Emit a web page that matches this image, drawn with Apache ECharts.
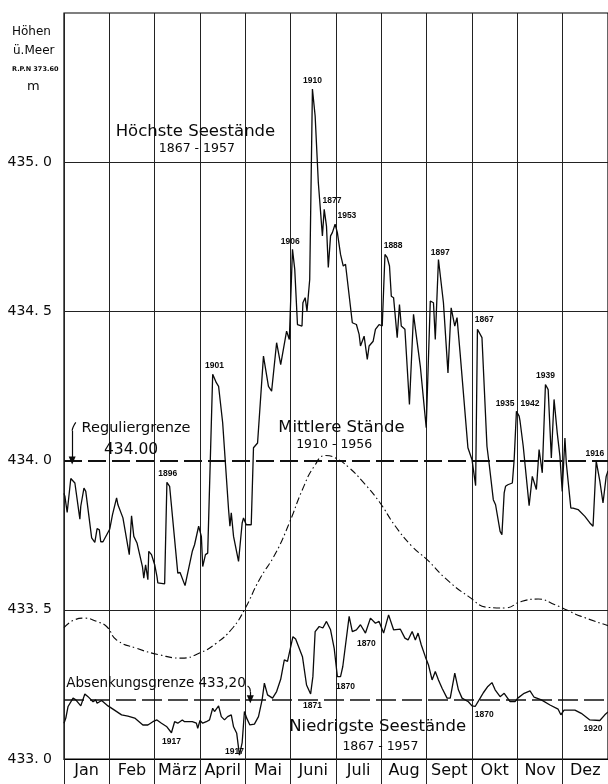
<!DOCTYPE html>
<html>
<head>
<meta charset="utf-8">
<script src="https://cdn.jsdelivr.net/npm/echarts@6/dist/echarts.min.js"></script>
<style>html,body{margin:0;padding:0;background:#fff}#c{width:608px;height:784px}</style>
</head>
<body>
<div id="c"></div>
<script>
// ---- data (x = months since 1 Jan, y = lake level in m ü. M.) ----
const months = ['Jan','Feb','März','April','Mai','Juni','Juli','Aug','Sept','Okt','Nov','Dez'];
const yTicks = [433.0, 433.5, 434.0, 434.5, 435.0];
const regulierGrenze = 434.00;
const absenkGrenze = 433.20;

const highest = [
[0.00,433.890],[0.02,433.880],[0.07,433.826],[0.15,433.940],[0.24,433.925],[0.35,433.804],[0.37,433.847],[0.44,433.908],[0.48,433.897],
[0.61,433.741],[0.68,433.726],[0.73,433.772],[0.78,433.768],[0.81,433.728],[0.86,433.728],[1.01,433.771],[1.07,433.819],[1.16,433.875],
[1.19,433.852],[1.30,433.808],[1.44,433.685],[1.49,433.815],[1.54,433.746],[1.61,433.724],[1.73,433.645],[1.76,433.606],[1.80,433.651],
[1.85,433.601],[1.87,433.696],[1.93,433.685],[2.00,433.651],[2.05,433.612],[2.07,433.590],[2.22,433.587],[2.27,433.927],[2.33,433.914],
[2.51,433.623],[2.56,433.625],[2.67,433.581],[2.70,433.587],[2.83,433.696],[2.88,433.718],[2.97,433.780],[3.03,433.746],[3.06,433.645],
[3.12,433.685],[3.17,433.690],[3.28,434.289],[3.36,434.261],[3.41,434.249],[3.50,434.127],[3.63,433.836],[3.66,433.780],[3.69,433.825],
[3.74,433.746],[3.85,433.662],[3.93,433.791],[3.96,433.808],[4.02,433.785],[4.13,433.785],[4.18,434.043],[4.27,434.059],[4.40,434.350],
[4.44,434.345],[4.51,434.249],[4.58,434.233],[4.69,434.395],[4.78,434.322],[4.91,434.434],[4.97,434.406],[5.00,434.406],[5.04,434.708],
[5.09,434.641],[5.15,434.456],[5.25,434.451],[5.27,434.529],[5.32,434.546],[5.36,434.501],[5.42,434.607],[5.48,435.245],[5.54,435.155],
[5.61,434.932],[5.70,434.753],[5.74,434.842],[5.79,434.786],[5.83,434.647],[5.88,434.753],[5.92,434.764],[5.98,434.792],[6.03,434.764],
[6.10,434.691],[6.16,434.652],[6.21,434.658],[6.36,434.462],[6.45,434.456],[6.51,434.423],[6.54,434.384],[6.62,434.417],[6.69,434.339],
[6.73,434.384],[6.82,434.400],[6.87,434.440],[6.95,434.456],[7.02,434.451],[7.08,434.691],[7.13,434.680],[7.18,434.652],[7.22,434.551],
[7.27,434.546],[7.35,434.412],[7.40,434.523],[7.44,434.451],[7.52,434.440],[7.62,434.188],[7.71,434.490],[7.86,434.316],[7.99,434.110],
[8.08,434.535],[8.15,434.529],[8.19,434.406],[8.26,434.674],[8.37,434.529],[8.47,434.294],[8.54,434.512],[8.62,434.451],[8.67,434.479],
[8.74,434.356],[8.91,434.043],[9.00,434.003],[9.08,433.916],[9.12,434.440],[9.22,434.412],[9.33,434.048],[9.38,433.987],[9.47,433.869],
[9.52,433.852],[9.62,433.763],[9.66,433.752],[9.71,433.892],[9.74,433.914],[9.79,433.919],[9.89,433.925],[9.93,434.003],[9.98,434.165],
[10.04,434.149],[10.06,434.132],[10.13,434.048],[10.26,433.849],[10.33,433.947],[10.37,433.942],[10.42,433.903],[10.48,434.037],
[10.55,433.959],[10.62,434.255],[10.68,434.238],[10.75,434.009],[10.81,434.205],[10.88,434.093],[10.94,434.014],[10.99,433.897],
[11.05,434.076],[11.08,433.992],[11.18,433.841],[11.23,433.841],[11.34,433.836],[11.49,433.813],[11.60,433.791],[11.67,433.780],
[11.74,433.998],[11.82,433.931],[11.89,433.858],[11.96,433.947],[12.00,433.965]
];

const mean = [
[0.00,433.440],[0.20,433.464],[0.46,433.472],[0.72,433.461],[0.94,433.444],[1.16,433.399],[1.60,433.371],[2.11,433.349],[2.59,433.338],
[2.99,433.355],[3.36,433.388],[3.72,433.439],[3.98,433.500],[4.31,433.601],[4.67,433.690],[4.97,433.791],[5.26,433.903],[5.52,433.981],
[5.77,434.017],[5.99,434.009],[6.29,433.976],[6.58,433.931],[6.95,433.863],[7.31,433.780],[7.68,433.712],[8.01,433.668],[8.41,433.606],
[8.92,433.545],[9.36,433.508],[9.73,433.506],[10.09,433.528],[10.46,433.536],[10.83,433.517],[11.05,433.502],[11.41,433.478],[12.00,433.447]
];

const lowest = [
[0.00,433.120],[0.04,433.137],[0.09,433.176],[0.20,433.204],[0.26,433.198],[0.37,433.178],[0.46,433.218],[0.53,433.209],[0.64,433.192],
[0.70,433.198],[0.73,433.187],[0.83,433.196],[0.97,433.178],[1.08,433.167],[1.27,433.148],[1.41,433.144],[1.56,433.137],[1.74,433.114],
[1.85,433.114],[1.96,433.125],[2.05,433.131],[2.15,433.120],[2.27,433.108],[2.37,433.088],[2.44,433.125],[2.51,433.120],[2.61,433.131],
[2.66,433.125],[2.83,433.125],[2.92,433.120],[2.95,433.103],[3.00,433.129],[3.06,433.120],[3.14,433.125],[3.21,433.131],[3.28,433.170],
[3.32,433.159],[3.41,433.178],[3.47,433.142],[3.54,433.131],[3.61,433.142],[3.69,433.148],[3.74,433.108],[3.81,433.086],[3.87,433.013],
[3.93,433.055],[3.98,433.159],[4.03,433.137],[4.10,433.114],[4.20,433.117],[4.29,433.142],[4.37,433.198],[4.42,433.254],[4.49,433.215],
[4.60,433.204],[4.69,433.226],[4.78,433.267],[4.86,433.332],[4.93,433.327],[5.05,433.410],[5.11,433.402],[5.26,433.343],[5.35,433.248],
[5.44,433.218],[5.49,433.276],[5.54,433.427],[5.63,433.444],[5.71,433.439],[5.79,433.461],[5.88,433.433],[5.96,433.371],[6.03,433.276],
[6.10,433.276],[6.15,433.310],[6.29,433.478],[6.36,433.427],[6.45,433.433],[6.54,433.450],[6.65,433.422],[6.76,433.472],[6.87,433.455],
[6.95,433.461],[7.05,433.422],[7.16,433.483],[7.27,433.433],[7.42,433.435],[7.52,433.405],[7.59,433.399],[7.68,433.427],[7.75,433.399],
[7.81,433.422],[7.88,433.383],[7.97,433.343],[8.04,433.315],[8.12,433.265],[8.19,433.293],[8.26,433.265],[8.34,433.237],[8.45,433.204],
[8.52,433.204],[8.62,433.288],[8.70,433.232],[8.78,433.204],[8.92,433.192],[9.00,433.178],[9.07,433.176],[9.18,433.204],[9.25,433.222],
[9.35,433.243],[9.44,433.256],[9.51,433.232],[9.62,433.209],[9.71,433.220],[9.84,433.192],[9.95,433.192],[10.01,433.204],[10.15,433.220],
[10.28,433.228],[10.37,433.207],[10.53,433.198],[10.72,433.181],[10.90,433.167],[10.96,433.148],[11.03,433.164],[11.27,433.164],
[11.41,433.153],[11.60,433.131],[11.82,433.129],[11.93,433.148],[12.00,433.158]
];

// year annotations [x, y, text]
const highestYears = [
[5.48,435.273,'1910'],[5.91,434.870,'1877'],[6.24,434.820,'1953'],[4.99,434.733,'1906'],[7.26,434.721,'1888'],[8.30,434.697,'1897'],
[3.32,434.319,'1901'],[9.27,434.473,'1867'],[10.62,434.285,'1939'],[9.73,434.190,'1935'],[10.28,434.190,'1942'],[11.71,434.022,'1916'],
[2.29,433.955,'1896']
];
const lowestYears = [
[5.48,433.178,'1871'],[6.21,433.243,'1870'],[6.67,433.388,'1870'],[9.27,433.148,'1870'],[11.67,433.103,'1920'],
[2.37,433.058,'1917'],[3.76,433.024,'1917']
];
// titles [x, y, text]
const titles = [
[2.90,435.101,'Höchste Seestände'],[6.12,434.110,'Mittlere Stände'],[6.92,433.108,'Niedrigste Seestände']
];
const subTitles = [
[2.93,435.046,'1867 - 1957'],[5.96,434.054,'1910 - 1956'],[6.98,433.041,'1867 - 1957']
];
const limitTexts = [
[1.59,434.110,'Reguliergrenze',14.5],[1.48,434.037,'434.00',15.5],[2.03,433.254,'Absenkungsgrenze 433,20',13.5]
];
const regHook = [[0.26,434.128],[0.20,434.112],[0.18,434.100]];
const absHook = [[4.05,433.245],[4.10,433.236],[4.11,433.225]];

// ---- chart ----
const FONT = 'DejaVu Sans';
const ink = '#0a0a0a';
const chart = echarts.init(document.getElementById('c'), null, {renderer:'canvas'});

function textSeries(arr, size, weight, family) {
  return {
    type:'scatter', xAxisIndex:0, yAxisIndex:0, silent:true, symbolSize:1,
    itemStyle:{color:'rgba(0,0,0,0)', opacity:1},
    data: arr.map(d => ({value:[d[0], d[1]], name:d[2], label: d[3] ? {fontSize:d[3]} : undefined})),
    label:{show:true, position:'inside', formatter: p => p.name, color:ink, opacity:1,
      fontFamily: family || FONT, fontSize:size, fontWeight:weight || 'normal'},
    emphasis:{disabled:true},
    z:10
  };
}

const option = {
  animation:false,
  backgroundColor:'#fff',
  grid:{left:64, top:13, width:546, height:746, show:true, borderColor:'#000', borderWidth:1.2, backgroundColor:'rgba(0,0,0,0)'},
  xAxis:[
    {type:'value', position:'top', min:0, max:12, interval:1,
     axisLine:{show:false}, axisTick:{show:false}, axisLabel:{show:false},
     splitLine:{show:true, lineStyle:{color:'#222', width:1}}},
    {type:'category', position:'bottom', data:months, boundaryGap:true,
     axisLine:{show:true, lineStyle:{color:'#000', width:1.2}},
     axisTick:{show:true, interval:0, length:25, lineStyle:{color:'#222', width:1}},
     axisLabel:{interval:0, margin:4, fontSize:16, color:ink, fontFamily:FONT}}
  ],
  yAxis:{type:'value', min:433, max:435.5, interval:0.5,
     axisLine:{show:false}, axisTick:{show:false}, splitLine:{show:false},
     axisLabel:{showMaxLabel:false, margin:12, fontSize:14, color:ink, fontFamily:FONT,
       formatter: v => (yTicks.indexOf(v) >= 0 ? v.toFixed(1).replace('.', '. ') : '')}},
  graphic:[
    {type:'text', left:12, top:26, style:{text:'Höhen', fontSize:12, fontFamily:FONT, fill:ink}},
    {type:'text', left:13, top:45, style:{text:'ü.Meer', fontSize:12, fontFamily:FONT, fill:ink}},
    {type:'text', left:12, top:66, style:{text:'R.P.N 373.60', fontSize:6.5, fontWeight:'bold', fontFamily:FONT, fill:ink}},
    {type:'text', left:27, top:80, style:{text:'m', fontSize:13, fontFamily:FONT, fill:ink}}
  ],
  series:[
    {name:'Höchste Seestände', type:'line', xAxisIndex:0, data:highest, symbol:'none',
     lineStyle:{color:ink, width:1.3}, z:5,
     markLine:{silent:true, symbol:['none','none'], label:{show:false},
       lineStyle:{color:'#222', width:1, type:'solid'},
       data:[
         {yAxis:yTicks[1]},{yAxis:yTicks[3]},{yAxis:yTicks[4]},
         {yAxis:regulierGrenze, lineStyle:{color:'#111', width:1.8, type:[18,6]}},
         {yAxis:absenkGrenze, lineStyle:{color:'#111', width:1.5, type:[20,6]}}
       ]}},
    {name:'Mittlere Stände', type:'line', xAxisIndex:0, data:mean, symbol:'none', smooth:0.5,
     lineStyle:{color:ink, width:1.1, type:[7,3,1.5,3]}, z:5},
    {name:'Niedrigste Seestände', type:'line', xAxisIndex:0, data:lowest, symbol:'none',
     lineStyle:{color:ink, width:1.3}, z:5,
     markLine:{silent:true, label:{show:false}, lineStyle:{color:ink, width:1.2, type:'solid'},
       symbol:['none','triangle'], symbolSize:[7,8],
       data:[
         [{coord:regHook[2]},{coord:[regHook[2][0], regulierGrenze]}],
         [{coord:absHook[2]},{coord:[absHook[2][0], absenkGrenze]}]
       ]}},
    {type:'line', xAxisIndex:0, data:regHook, symbol:'none', smooth:true, lineStyle:{color:ink, width:1.2}},
    {type:'line', xAxisIndex:0, data:absHook, symbol:'none', smooth:true, lineStyle:{color:ink, width:1.2}},
    textSeries(highestYears, 8.5, 'bold', 'Liberation Sans'),
    textSeries(lowestYears, 8.5, 'bold', 'Liberation Sans'),
    textSeries(titles, 16.5),
    textSeries(subTitles, 12.5),
    textSeries(limitTexts, 14.5)
  ]
};
chart.setOption(option);
</script>
</body>
</html>
